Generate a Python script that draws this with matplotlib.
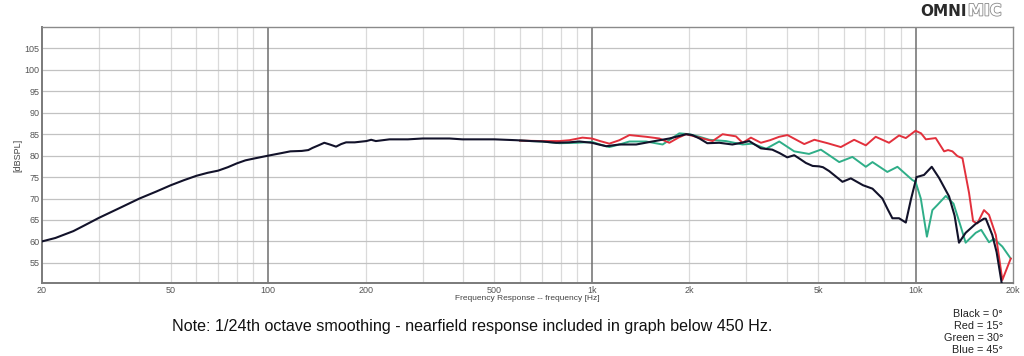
import matplotlib
matplotlib.use("Agg")
import matplotlib.pyplot as plt
import matplotlib.patheffects as pe
from matplotlib.ticker import FixedLocator, NullFormatter

# frequency response readings (Hz, dB SPL)
black_f = [20, 22, 25, 27, 30, 35, 40, 45, 50, 55, 60, 65, 70, 75, 80, 85, 90, 100,
           110, 117, 127, 133, 137, 143, 149, 155, 162, 168, 174, 185, 201, 208, 215,
           237, 270, 300, 363, 398, 450, 500, 584, 650, 703, 776, 850, 914, 1000,
           1050, 1107, 1216, 1370, 1538, 1735, 1954, 2042, 2150, 2272, 2475, 2716,
           2900, 3062, 3200, 3328, 3608, 3800, 4013, 4218, 4400, 4582, 4808, 5036,
           5176, 5408, 5944, 6310, 6880, 7360, 7900, 8200, 8480, 8890, 9330, 9670,
           10070, 10620, 11220, 11820, 12690, 13200, 13620, 14280, 15340, 16270,
           16480, 17260, 17800, 18460]
black_db = [60.0, 60.8, 62.4, 63.7, 65.5, 67.9, 70.0, 71.6, 73.1, 74.3, 75.3, 76.0,
            76.5, 77.3, 78.2, 78.9, 79.3, 80.0, 80.6, 81.0, 81.1, 81.3, 81.8, 82.4,
            83.0, 82.6, 82.1, 82.7, 83.1, 83.1, 83.4, 83.7, 83.4, 83.8, 83.8, 84.0,
            84.0, 83.8, 83.8, 83.8, 83.6, 83.4, 83.3, 83.0, 83.1, 83.3, 83.0, 82.6,
            82.2, 82.6, 82.6, 83.3, 84.0, 85.0, 84.8, 84.0, 82.9, 83.0, 82.6, 83.0,
            83.4, 82.5, 81.7, 81.4, 80.6, 79.6, 80.1, 79.2, 78.3, 77.6, 77.5, 77.3,
            76.4, 73.9, 74.7, 73.1, 72.3, 70.0, 67.5, 65.4, 65.4, 64.4, 69.7, 75.0,
            75.5, 77.4, 74.8, 70.5, 66.0, 59.7, 62.0, 64.1, 65.3, 65.3, 61.5, 57.5,
            50.2]

red_f = [600, 700, 794, 852, 935, 1000, 1060, 1132, 1216, 1306, 1470, 1616, 1735,
         1850, 1954, 2098, 2360, 2534, 2786, 2922, 3100, 3328, 3550, 3792, 4020,
         4530, 4868, 5346, 5876, 6460, 7020, 7530, 8280, 8890, 9330, 10000, 10400,
         10760, 11540, 12250, 12600, 13000, 13460, 13960, 14630, 15060, 15520,
         16270, 16860, 17700, 18540, 19680]
red_db = [83.5, 83.4, 83.4, 83.6, 84.2, 84.0, 83.4, 82.8, 83.6, 84.8, 84.4, 84.0,
          83.0, 84.2, 85.0, 84.4, 83.4, 85.0, 84.5, 83.0, 84.2, 83.0, 83.6, 84.4,
          84.8, 82.7, 83.7, 82.9, 82.0, 83.7, 82.4, 84.4, 83.0, 84.7, 84.1, 85.8,
          85.2, 83.8, 84.1, 81.0, 81.3, 81.0, 79.9, 79.4, 71.3, 64.7, 64.2, 67.3,
          66.2, 61.5, 51.0, 56.0]

green_f = [600, 700, 794, 900, 1000, 1060, 1132, 1216, 1306, 1470, 1654, 1862, 2000,
           2150, 2306, 2596, 2922, 3136, 3452, 3792, 4218, 4686, 5098, 5408, 5808,
           6380, 7020, 7360, 8180, 8790, 9780, 10000, 10380, 10840, 11270, 11680,
           12400, 13100, 13800, 14280, 15340, 15950, 16860, 17460, 18540, 19680]
green_db = [83.5, 83.3, 82.9, 83.0, 83.2, 82.6, 82.0, 82.6, 83.3, 83.3, 82.6, 85.2,
            85.0, 84.4, 83.7, 83.4, 82.6, 82.8, 81.6, 83.3, 81.0, 80.4, 81.4, 80.1,
            78.5, 79.7, 77.4, 78.5, 76.2, 77.4, 74.3, 73.9, 70.0, 61.1, 67.3, 68.5,
            70.6, 68.8, 63.4, 59.7, 62.0, 62.7, 59.8, 60.6, 58.8, 56.0]

x_ticks = [20, 50, 100, 200, 500, 1000, 2000, 5000, 10000, 20000]
x_labels = ["20", "50", "100", "200", "500", "1k", "2k", "5k", "10k", "20k"]
y_ticks = [55, 60, 65, 70, 75, 80, 85, 90, 95, 100, 105]
legend_lines = ["Black = 0°", "Red = 15°", "Green = 30°", "Blue = 45°"]

plt.rcParams['font.family'] = ['Liberation Sans', 'DejaVu Sans']

fig = plt.figure(figsize=(10.24, 3.56), dpi=100)
ax = fig.add_axes([42 / 1024, 1 - 283 / 356, 971 / 1024, 256 / 356])

ax.set_xscale("log")
ax.set_xlim(20, 20000)
ax.set_ylim(50.3, 110)

# grid: minor verticals, horizontals, major decades
minor = [m * d for d in (10, 100, 1000, 10000) for m in range(2, 10)]
minor = [v for v in minor if 20 < v < 20000]
for v in minor:
    ax.axvline(v, color="#dadada", lw=0.9, zorder=0)
for v in y_ticks:
    ax.axhline(v, color="#c2c2c2", lw=0.9, zorder=0)
for v in (100, 1000, 10000):
    ax.axvline(v, color="#6e6e6e", lw=1.1, zorder=1)

ax.plot(green_f, green_db, color="#2fae88", lw=1.4, zorder=3)
ax.plot(red_f, red_db, color="#e2303c", lw=1.4, zorder=3)
ax.plot(black_f, black_db, color="#12122a", lw=1.5, zorder=4)

ax.xaxis.set_major_locator(FixedLocator(x_ticks))
ax.xaxis.set_minor_locator(FixedLocator([]))
ax.xaxis.set_minor_formatter(NullFormatter())
ax.set_xticks(x_ticks)
ax.set_xticklabels(x_labels)
ax.set_yticks(y_ticks)
ax.tick_params(axis="both", length=0, labelsize=6.5, colors="#555555", pad=2)

for s in ("left", "bottom"):
    ax.spines[s].set_color("#7a7a7a")
    ax.spines[s].set_linewidth(1.4)
for s in ("top", "right"):
    ax.spines[s].set_color("#8a8a8a")
    ax.spines[s].set_linewidth(1.0)

ax.set_ylabel("[dBSPL]", fontsize=6.5, color="#444444")
ax.yaxis.set_label_coords(-20 / 971, 0.5)
ax.set_xlabel("Frequency Response -- frequency [Hz]", fontsize=6, color="#444444", labelpad=0)

fig.text(472 / 1024, 1 - 327 / 356,
         "Note: 1/24th octave smoothing - nearfield response included in graph below 450 Hz.",
         ha="center", va="center", fontsize=11.6, color="#111111")

for i, line in enumerate(legend_lines):
    fig.text(1003 / 1024, 1 - (314 + 12 * i) / 356, line, ha="right", va="center",
             fontsize=7.8, color="#222222")

fig.text(967 / 1024, 1 - 11 / 356, "OMNI", ha="right", va="center", fontsize=11,
         fontweight="bold", color="#2a2a2a", family="DejaVu Sans")
fig.text(968 / 1024, 1 - 11 / 356, "MIC", ha="left", va="center", fontsize=11.5,
         fontweight="bold", color="white", family="DejaVu Sans",
         path_effects=[pe.withStroke(linewidth=1.2, foreground="#8a8a8a")])

fig.savefig("out.png", dpi=100)
